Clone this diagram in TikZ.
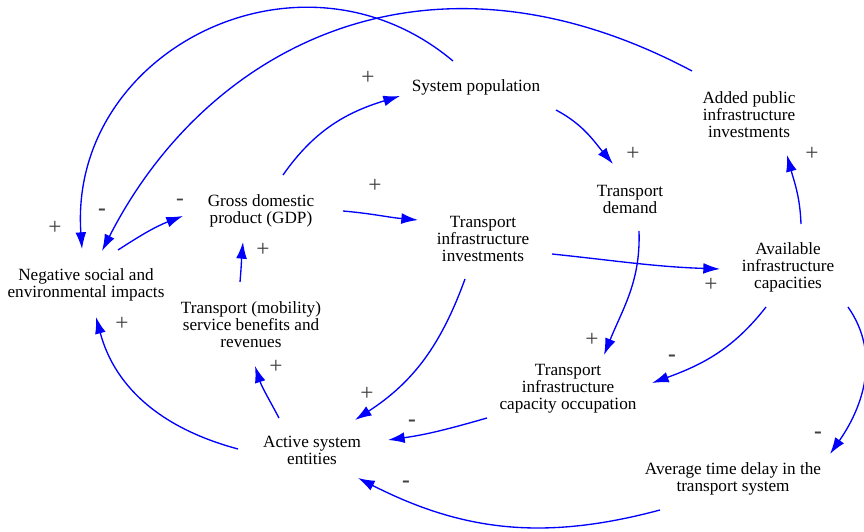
\documentclass[tikz,border=0pt]{standalone}
\usepackage{fontspec}
\setmainfont{Liberation Serif}
\usetikzlibrary{arrows.meta}
\definecolor{linkblue}{RGB}{0,0,255}
\tikzstyle{var} = [align=center, inner sep=0pt, font=\fontsize{10.3}{10.2}\selectfont]
\tikzstyle{sign} = [inner sep=0pt, text=black!75, font=\fontsize{14}{14}\selectfont]
\tikzstyle{link} = [draw=linkblue, line width=0.8pt, -{Latex[length=10pt,width=6.5pt]}]

\begin{document}
\begin{tikzpicture}[x=0.6pt, y=0.6pt]
        \useasboundingbox (0,0) rectangle (864,-532);

        \node[var] (pop) at (476,-87) {System population};
        \node[var] (added) at (749,-115) {Added public\\infrastructure\\investments};
        \node[var] (gdp) at (261,-211) {Gross domestic\\product (GDP)};
        \node[var] (demand) at (630,-199) {Transport\\demand};
        \node[var] (tii) at (483,-239) {Transport\\infrastructure\\investments};
        \node[var] (avail) at (788,-267) {Available\\infrastructure\\capacities};
        \node[var] (neg) at (86,-285) {Negative social and\\environmental impacts};
        \node[var] (serv) at (251,-325) {Transport (mobility)\\service benefits and\\revenues};
        \node[var] (occ) at (568,-389) {Transport\\infrastructure\\capacity occupation};
        \node[var] (active) at (312,-450) {Active system\\entities};
        \node[var] (delay) at (733,-479) {Average time delay in the\\transport system};

        % Links
        \draw[link] ([shift={(32,35)}]neg.center) to[out=33,in=201] ([shift={(-78,-5)}]gdp.center);
        \draw[link] ([shift={(-23,26)}]pop.center) .. controls +(140:199) and +(94:199) .. ([shift={(-4,36)}]neg.center);
        \draw[link] ([shift={(-57,44)}]added.center) .. controls +(152:300) and +(63:230) .. ([shift={(16,34)}]neg.center);
        \draw[link] ([shift={(22,36)}]gdp.center) to[out=55,in=197] ([shift={(-76,-9)}]pop.center);
        \draw[link] ([shift={(82,0)}]gdp.center) to[out=-5,in=175] ([shift={(-65,19)}]tii.center);
        \draw[link] ([shift={(80,-23)}]pop.center) to[out=-28,in=130] ([shift={(-17,35)}]demand.center);
        \draw[link] ([shift={(9,-32)}]demand.center) to[out=-88,in=68] ([shift={(36,34)}]occ.center);
        \draw[link] ([shift={(69,-15)}]tii.center) to[out=-6,in=178] ([shift={(-68,-2)}]avail.center);
        \draw[link] ([shift={(13,43)}]avail.center) to[out=92,in=-75] ([shift={(38,-40)}]added.center);
        \draw[link] ([shift={(-22,-40)}]avail.center) to[out=-128,in=20] ([shift={(84,6)}]occ.center);
        \draw[link] ([shift={(60,-40)}]avail.center) to[out=-55,in=55] ([shift={(97,25)}]delay.center);
        \draw[link] ([shift={(-18,-40)}]tii.center) to[out=-110,in=33] ([shift={(43,30)}]active.center);
        \draw[link] ([shift={(-81,-29)}]occ.center) to[out=196,in=8] ([shift={(76,10)}]active.center);
        \draw[link] ([shift={(-73,-31)}]delay.center) to[out=195,in=-27] ([shift={(46,-28)}]active.center);
        \draw[link] ([shift={(-33,32)}]active.center) to[out=118,in=-72] ([shift={(4,-41)}]serv.center);
        \draw[link] ([shift={(-74,1)}]active.center) to[out=165,in=-75] ([shift={(10,-32)}]neg.center);
        \draw[link] ([shift={(-11,43)}]serv.center) to[out=85,in=-95] ([shift={(-18,-31)}]gdp.center);

        % Polarities
        \node[sign] (s1) at (180,-202) {-};
        \node[sign] (s2) at (55,-228) {+};
        \node[sign] (s3) at (102,-212) {\textbf{-}};
        \node[sign] (s4) at (368,-78) {+};
        \node[sign] (s5) at (375,-186) {+};
        \node[sign] (s6) at (633,-154) {+};
        \node[sign] (s7) at (812,-154) {+};
        \node[sign] (s8) at (263,-250) {+};
        \node[sign] (s9) at (711,-285) {+};
        \node[sign] (s10) at (122,-324) {+};
        \node[sign] (s11) at (276,-367) {+};
        \node[sign] (s12) at (592,-340) {+};
        \node[sign] (s13) at (672,-358) {\textbf{-}};
        \node[sign] (s14) at (367,-394) {+};
        \node[sign] (s15) at (412,-423) {\textbf{-}};
        \node[sign] (s16) at (818,-435) {\textbf{-}};
        \node[sign] (s17) at (406,-484) {\textbf{-}};
\end{tikzpicture}
\end{document}
